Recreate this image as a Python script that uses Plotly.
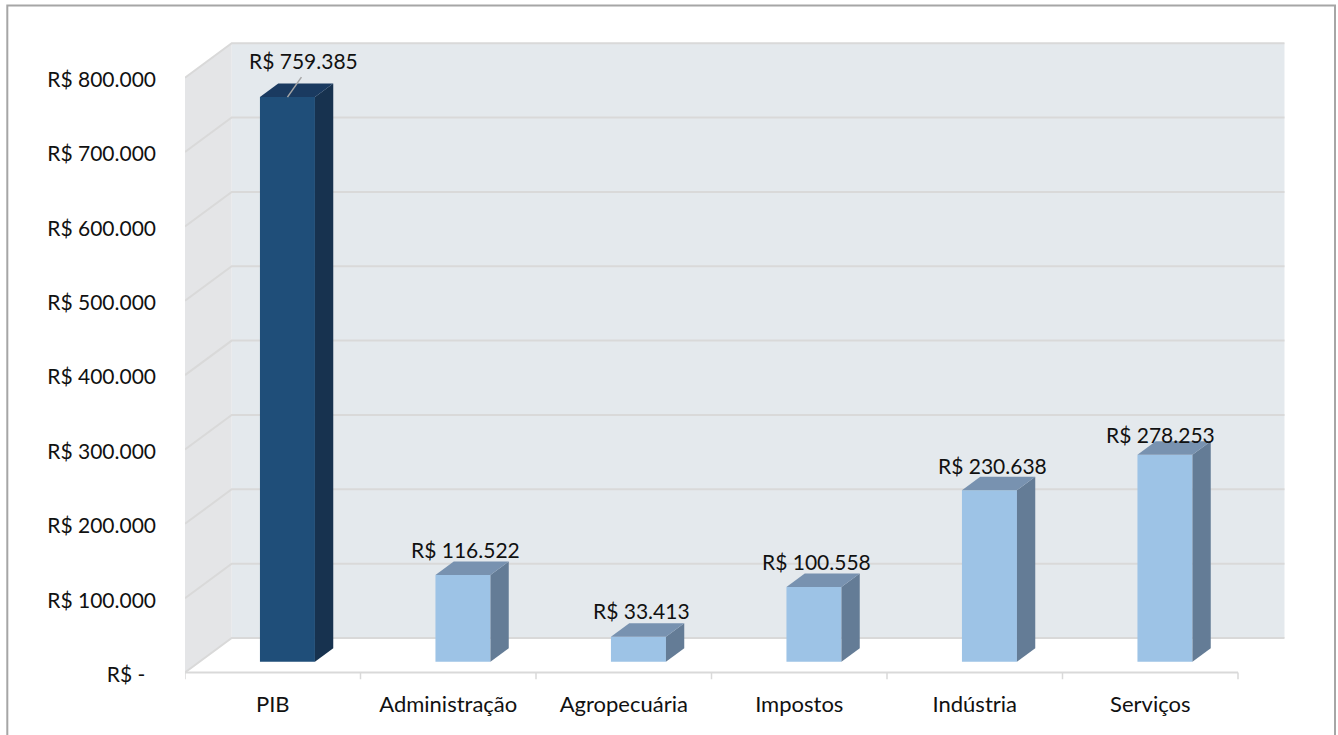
import plotly.graph_objects as go

categories = ["PIB", "Administração", "Agropecuária", "Impostos", "Indústria", "Serviços"]
values = [759385, 116522, 33413, 100558, 230638, 278253]
value_labels = ["R$ 759.385", "R$ 116.522", "R$ 33.413", "R$ 100.558", "R$ 230.638", "R$ 278.253"]
axis_values = [0, 100000, 200000, 300000, 400000, 500000, 600000, 700000, 800000]
axis_labels = ["R$ -\u00a0\u00a0", "R$ 100.000", "R$ 200.000", "R$ 300.000", "R$ 400.000",
               "R$ 500.000", "R$ 600.000", "R$ 700.000", "R$ 800.000"]

W, H = 1338, 735
FONT = "Lato"
FS_NUM = 21
FS_CAT = 22
PX_CAT = (1238 - 185) / 6
PX_VAL = 74.35 / 100000
Y0_PX = 672.5
X0_PX = 185.0
DEPTH_X = 46.7 / PX_CAT           # wall depth, category units
DEPTH_Y = 34.5 / PX_VAL           # wall depth, value units
BAR_W = 55 / PX_CAT
BAR_DX = 14.7 / PX_CAT
BAR_BASE = 10.8 / PX_VAL
BAR_DEPTH_X = 18.3 / PX_CAT
BAR_DEPTH_Y = 13.5 / PX_VAL
Y_LOW = -12000
Y_HIGH = axis_values[-1] + DEPTH_Y + 3000
X_LOW = -0.5
X_HIGH = 5.5 + DEPTH_X

LABEL_SHIFT_X = [16, 3, 3, 3, 3, -4]
LABEL_SHIFT_Y = [37, 26, 26, 25, 25, 20]
COL_FRONT = ["#1F4E79", "#9DC3E6", "#9DC3E6", "#9DC3E6", "#9DC3E6", "#9DC3E6"]
COL_SIDE = ["#17324F", "#647C96", "#647C96", "#647C96", "#647C96", "#647C96"]
COL_TOP = ["#1A3A60", "#7892B0", "#7892B0", "#7892B0", "#7892B0", "#7892B0"]
GRID = "#D9D9D9"

shapes = []
# back wall
shapes.append(dict(type="rect", layer="below", xref="x", yref="y", line_width=0, fillcolor="#E4E9ED",
                   x0=X_LOW + DEPTH_X, x1=X_HIGH, y0=DEPTH_Y, y1=axis_values[-1] + DEPTH_Y))
# side wall
shapes.append(dict(type="path", layer="below", xref="x", yref="y", line_width=0, fillcolor="#E4E5E7",
                   path=f"M {X_LOW},0 L {X_LOW + DEPTH_X},{DEPTH_Y} L {X_LOW + DEPTH_X},{axis_values[-1] + DEPTH_Y} "
                        f"L {X_LOW},{axis_values[-1]} Z"))
# gridlines running along side wall then back wall
for v in axis_values:
    shapes.append(dict(type="path", layer="below", xref="x", yref="y", line=dict(color=GRID, width=2),
                       path=f"M {X_LOW},{v} L {X_LOW + DEPTH_X},{v + DEPTH_Y} L {X_HIGH},{v + DEPTH_Y}"))
# front floor edge and category ticks
shapes.append(dict(type="line", layer="below", xref="x", yref="y", line=dict(color=GRID, width=2),
                   x0=X_LOW, x1=5.5, y0=0, y1=0))
for i in range(len(categories) + 1):
    shapes.append(dict(type="line", layer="below", xref="x", yref="y", line=dict(color=GRID, width=1.5),
                       x0=X_LOW + i, x1=X_LOW + i, y0=0, y1=Y_LOW * 0.75))
# outer frame, its lower edge falls below the page
shapes.append(dict(type="rect", xref="paper", yref="paper", line=dict(color="#A6A6A6", width=2),
                   fillcolor="rgba(0,0,0,0)", x0=7.3 / W, x1=1335 / W, y0=-0.05, y1=(H - 5.5) / H))

fig = go.Figure()
bar_x = [i + BAR_DX for i in range(len(categories))]
fig.add_trace(go.Bar(x=bar_x, y=values, base=BAR_BASE, width=BAR_W,
                     marker=dict(color=COL_FRONT, line=dict(width=0)), showlegend=False, hoverinfo="skip"))

for i, v in enumerate(values):
    xl = bar_x[i] - BAR_W / 2
    xr = bar_x[i] + BAR_W / 2
    yb = BAR_BASE
    yt = BAR_BASE + v
    fig.add_trace(go.Scatter(
        x=[xr, xr + BAR_DEPTH_X, xr + BAR_DEPTH_X, xr, xr],
        y=[yb, yb + BAR_DEPTH_Y, yt + BAR_DEPTH_Y, yt, yb],
        mode="lines", fill="toself", fillcolor=COL_SIDE[i], line=dict(width=0),
        showlegend=False, hoverinfo="skip"))
    fig.add_trace(go.Scatter(
        x=[xl, xl + BAR_DEPTH_X, xr + BAR_DEPTH_X, xr, xl],
        y=[yt, yt + BAR_DEPTH_Y, yt + BAR_DEPTH_Y, yt, yt],
        mode="lines", fill="toself", fillcolor=COL_TOP[i], line=dict(width=0),
        showlegend=False, hoverinfo="skip"))

# leader line of the tallest bar's label
fig.add_trace(go.Scatter(
    x=[bar_x[0], bar_x[0] + 14 / PX_CAT],
    y=[BAR_BASE + values[0], BAR_BASE + values[0] + 20 / PX_VAL],
    mode="lines", line=dict(color="#A6A6A6", width=1.5), showlegend=False, hoverinfo="skip"))

annotations = []
for i, v in enumerate(values):
    annotations.append(dict(x=bar_x[i], y=BAR_BASE + v, xref="x", yref="y", text=value_labels[i],
                            showarrow=False, xanchor="center", yanchor="middle",
                            xshift=LABEL_SHIFT_X[i], yshift=LABEL_SHIFT_Y[i],
                            font=dict(family=FONT, size=FS_NUM, color="#111111")))

bottom_px = Y0_PX - Y_LOW * PX_VAL
top_px = Y0_PX - Y_HIGH * PX_VAL

fig.update_layout(
    width=W, height=H, margin=dict(l=0, r=0, t=0, b=0, autoexpand=False),
    paper_bgcolor="white", plot_bgcolor="rgba(0,0,0,0)",
    showlegend=False, barmode="overlay", shapes=shapes, annotations=annotations,
    font=dict(family=FONT, size=FS_NUM, color="#111111"),
    xaxis=dict(domain=[X0_PX / W, (X0_PX + (X_HIGH - X_LOW) * PX_CAT) / W], range=[X_LOW, X_HIGH],
               automargin=False,
               tickmode="array", tickvals=list(range(len(categories))), ticktext=categories,
               showgrid=False, zeroline=False, showline=False, ticks="", ticklabelstandoff=8,
               tickfont=dict(family=FONT, size=FS_CAT, color="#111111")),
    yaxis=dict(domain=[(H - bottom_px) / H, (H - top_px) / H], range=[Y_LOW, Y_HIGH],
               automargin=False,
               tickmode="array", tickvals=axis_values, ticktext=axis_labels,
               showgrid=False, zeroline=False, showline=False, ticks="", ticklabelstandoff=28,
               ticklabelshift=2,
               tickfont=dict(family=FONT, size=FS_NUM, color="#111111")),
)

fig.write_html("out.html", config=dict(displayModeBar=False, responsive=False),
               post_script="document.body.style.margin='0';document.body.style.overflow='hidden';")
